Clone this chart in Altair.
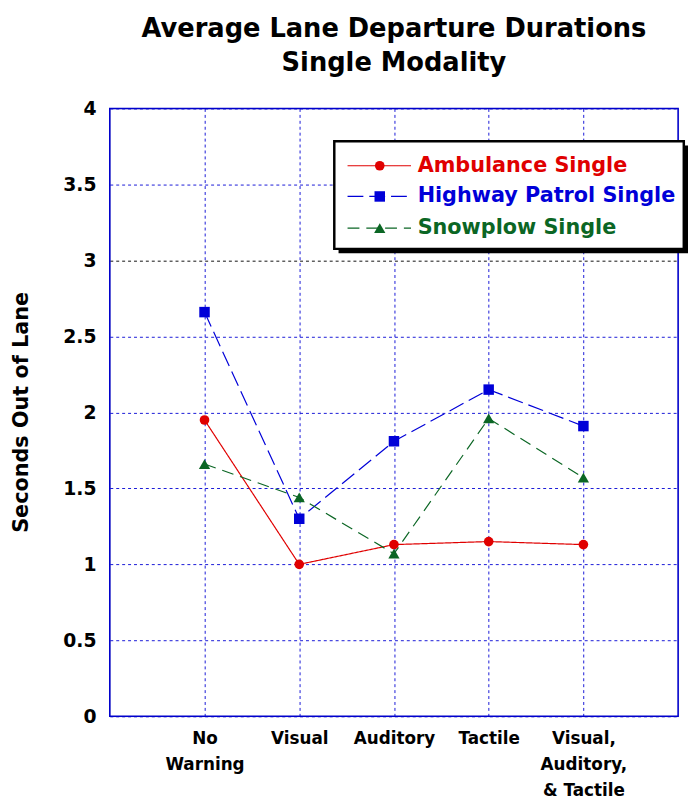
import json
import altair as alt
import pandas as pd

# ---- data ----
categories = ["No Warning", "Visual", "Auditory", "Tactile", "Visual, Auditory, & Tactile"]
category_lines = [["No", "Warning"], ["Visual"], ["Auditory"], ["Tactile"], ["Visual,", "Auditory,", "& Tactile"]]
series_names = ["Ambulance Single", "Highway Patrol Single", "Snowplow Single"]
ambulance = [1.95, 1.00, 1.13, 1.15, 1.13]
highway_patrol = [2.66, 1.30, 1.81, 2.15, 1.91]
snowplow = [1.66, 1.44, 1.07, 1.96, 1.57]
y_ticks = [0, 0.5, 1, 1.5, 2, 2.5, 3, 3.5, 4]
x_domain = [0, 6]
y_domain = [0, 4]

# ---- styles ----
colors = ["#e00000", "#0000d8", "#0b6624"]
dashes = [[1, 0], [16, 6], [12, 7]]
shapes = ["circle", "square", "triangle-up"]
sizes = [95, 130, 110]
FONT = "DejaVu Sans"
GRID_BLUE = "#1a1ad8"

rows = []
for name, vals in zip(series_names, [ambulance, highway_patrol, snowplow]):
    for i, (c, v) in enumerate(zip(categories, vals)):
        rows.append({"series": name, "idx": i + 1, "category": c, "value": v})
df = pd.DataFrame(rows)

color_scale = alt.Scale(domain=series_names, range=colors)
dash_scale = alt.Scale(domain=series_names, range=dashes)
shape_scale = alt.Scale(domain=series_names, range=shapes)
size_scale = alt.Scale(domain=series_names, range=sizes)

label_expr = json.dumps(category_lines) + "[datum.value - 1]"

x_enc = alt.X(
    "idx:Q",
    scale=alt.Scale(domain=x_domain, nice=False, zero=False),
    axis=alt.Axis(
        values=[1, 2, 3, 4, 5],
        labelExpr=label_expr,
        title=None,
        ticks=False,
        domain=False,
        labelFont=FONT,
        labelFontSize=17,
        labelFontWeight="bold",
        labelColor="black",
        labelPadding=15,
        labelLineHeight=26,
        labelBaseline="top",
        gridColor=GRID_BLUE,
        gridDash=[3, 3],
        gridWidth=1,
    ),
)
y_enc = alt.Y(
    "value:Q",
    scale=alt.Scale(domain=y_domain, nice=False),
    axis=alt.Axis(
        values=y_ticks,
        format=".1~f",
        title="Seconds Out of Lane",
        titleFont=FONT,
        titleFontSize=21,
        titleFontWeight="bold",
        titleColor="black",
        titleAngle=-90,
        titleX=-89,
        titleY=307,
        titleAlign="center",
        titleBaseline="middle",
        ticks=False,
        domain=False,
        labelFont=FONT,
        labelFontSize=19,
        labelFontWeight="bold",
        labelColor="black",
        labelPadding=14,
        gridColor={"condition": {"test": "datum.value === 3", "value": "#111111"}, "value": GRID_BLUE},
        gridDash=[3, 3],
        gridWidth=1,
    ),
)

lines = alt.Chart(df).mark_line(strokeWidth=1.2).encode(
    x=x_enc,
    y=y_enc,
    color=alt.Color("series:N", scale=color_scale, legend=None),
    strokeDash=alt.StrokeDash("series:N", scale=dash_scale, legend=None),
    detail="series:N",
)
points = alt.Chart(df).mark_point(filled=True, opacity=1).encode(
    x="idx:Q",
    y="value:Q",
    color=alt.Color("series:N", scale=color_scale, legend=None),
    shape=alt.Shape("series:N", scale=shape_scale, legend=None),
    size=alt.Size("series:N", scale=size_scale, legend=None),
)

# plot frame (solid blue border around the plotting area)
frame_df = pd.DataFrame({"x": [x_domain[0]], "x2": [x_domain[1]], "y": [y_domain[0]], "y2": [y_domain[1]]})
frame = alt.Chart(frame_df).mark_rect(fill=None, fillOpacity=0, stroke="#0000cc", strokeWidth=1.6).encode(
    x="x:Q", x2="x2:Q", y="y:Q", y2="y2:Q")

# ---- hand-drawn legend box (placed in data units) ----
box_x, box_x2, box_y, box_y2 = 2.37, 6.06, 3.785, 3.076
shadow_dx, shadow_dy = 0.045, 0.028
legend_row_y = [3.623, 3.421, 3.213]
seg_x, seg_x2, mark_x, text_x = 2.51, 3.18, 2.85, 3.25

box_df = pd.DataFrame({"x": [box_x], "x2": [box_x2], "y": [box_y], "y2": [box_y2]})
shadow_df = pd.DataFrame({"x": [box_x + shadow_dx], "x2": [box_x2 + shadow_dx],
                          "y": [box_y - shadow_dy], "y2": [box_y2 - shadow_dy]})
shadow = alt.Chart(shadow_df).mark_rect(color="black").encode(
    x="x:Q", x2="x2:Q", y="y:Q", y2="y2:Q")
box = alt.Chart(box_df).mark_rect(fill="white", stroke="black", strokeWidth=2.5).encode(
    x="x:Q", x2="x2:Q", y="y:Q", y2="y2:Q")

leg_df = pd.DataFrame({"series": series_names, "ly": legend_row_y,
                       "sx": [seg_x] * 3, "sx2": [seg_x2] * 3,
                       "mx": [mark_x] * 3, "tx": [text_x] * 3})
leg_lines = alt.Chart(leg_df).mark_rule(strokeWidth=1.2).encode(
    x="sx:Q", x2="sx2:Q", y="ly:Q",
    color=alt.Color("series:N", scale=color_scale, legend=None),
    strokeDash=alt.StrokeDash("series:N", scale=dash_scale, legend=None),
)
leg_points = alt.Chart(leg_df).mark_point(filled=True, opacity=1).encode(
    x="mx:Q", y="ly:Q",
    color=alt.Color("series:N", scale=color_scale, legend=None),
    shape=alt.Shape("series:N", scale=shape_scale, legend=None),
    size=alt.Size("series:N", scale=size_scale, legend=None),
)
leg_text = alt.Chart(leg_df).mark_text(
    align="left", baseline="middle", font=FONT, fontSize=21, fontWeight="bold"
).encode(
    x="tx:Q", y="ly:Q", text="series:N",
    color=alt.Color("series:N", scale=color_scale, legend=None),
)

chart = (
    alt.layer(lines, points, frame, shadow, box, leg_lines, leg_points, leg_text)
    .properties(
        width=575,
        height=615,
        title=alt.TitleParams(
            ["Average Lane Departure Durations", "Single Modality"],
            font=FONT,
            fontSize=26,
            fontWeight="bold",
            color="black",
            lineHeight=34,
            anchor="middle",
            offset=24,
        ),
        autosize=alt.AutoSizeParams(type="none"),
        padding={"left": 103, "top": 97, "right": 10, "bottom": 79},
    )
    .configure_view(stroke=None)
    .configure(background="white")
)

chart.save("out.html", embed_options={"renderer": "svg", "actions": False})
